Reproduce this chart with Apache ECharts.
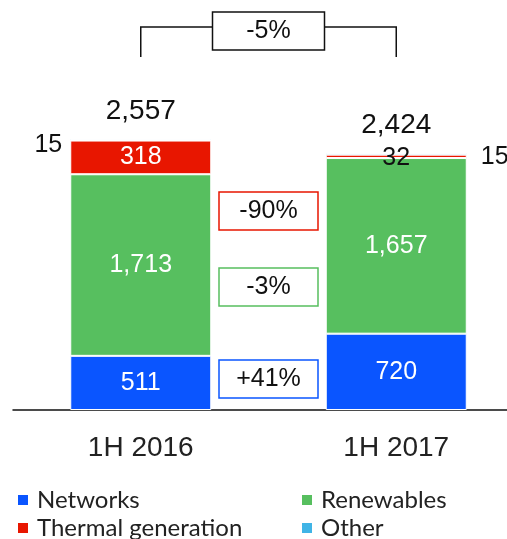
<!DOCTYPE html>
<html>
<head>
<meta charset="utf-8">
<script src="https://cdn.jsdelivr.net/npm/echarts@6/dist/echarts.min.js"></script>
<style>
  html, body { margin: 0; padding: 0; background: #fff; }
  #main { width: 507px; height: 539px; }
</style>
</head>
<body>
<div id="main"></div>
<script>
// 数据
var periods = ['1H 2016', '1H 2017'];
var networks = [511, 720];
var renewables = [1713, 1657];
var thermal = [318, 32];
var other = [15, 15];
var totals = [2557, 2424];
var changes = ['-90%', '-3%', '+41%'];
var totalChange = '-5%';

var cBlue = '#0A55FF', cGreen = '#57BF5F', cRed = '#E81600', cOther = '#40B4E6';
var font = "'Liberation Sans', Arial, sans-serif";
var legendFont = "Lato, 'Open Sans', sans-serif";

var myChart = echarts.init(document.getElementById('main'));

function commas(p) { return echarts.format.addCommas(p.value); }
var inLabel = { show: true, position: 'inside', color: '#fff', fontSize: 25, fontFamily: font, formatter: commas };
var seg = { borderColor: '#fff', borderWidth: 1 };

// 图例：每项单独放，做成两列两行
function legendItem(name, left, top) {
  return {
    left: left, top: top, padding: 0, itemWidth: 12, itemHeight: 12,
    icon: 'rect', data: [name],
    textStyle: { fontSize: 24, lineHeight: 24, color: '#222', fontFamily: legendFont, padding: [0, 0, 0, 3] }
  };
}

option = {
  animation: false,
  grid: { left: 13, right: -17, top: 92, bottom: 129, outerBoundsMode: 'none' },
  xAxis: {
    type: 'category',
    data: periods,
    axisLine: { lineStyle: { color: '#111', width: 1.5 } },
    axisTick: { show: false },
    axisLabel: { fontSize: 28, color: '#222', fontFamily: font, margin: 24 }
  },
  yAxis: { type: 'value', min: 0, max: 3000, show: false },
  legend: [
    legendItem('Networks', 16, 488),
    legendItem('Renewables', 300, 488),
    legendItem('Thermal generation', 16, 516),
    legendItem('Other', 300, 516)
  ],
  series: [
    {
      name: 'Networks', type: 'bar', stack: 'a', barWidth: 141,
      itemStyle: Object.assign({ color: cBlue }, seg),
      label: inLabel, data: networks
    },
    {
      name: 'Renewables', type: 'bar', stack: 'a',
      itemStyle: Object.assign({ color: cGreen }, seg),
      label: inLabel, data: renewables
    },
    {
      name: 'Thermal generation', type: 'bar', stack: 'a',
      itemStyle: Object.assign({ color: cRed }, seg),
      label: inLabel,
      data: thermal.map(function (v, i) {
        // 小值标签用黑色，稍微往下
        return i === 0 ? v : { value: v, label: { color: '#111', offset: [0, 2] } };
      })
    },
    {
      name: 'Other', type: 'bar', stack: 'a',
      itemStyle: Object.assign({ color: cOther }, seg),
      label: { show: true, color: '#111', fontSize: 25, fontFamily: font },
      data: other.map(function (v, i) {
        return i === 0
          ? { value: v, label: { position: 'left', distance: 8, offset: [0, 5] } }
          : { value: v, label: { position: 'right', distance: 14, offset: [0, 3] } };
      })
    },
    {
      name: 'Total', type: 'scatter', symbolSize: 0.01,
      itemStyle: { color: '#111', opacity: 1 },
      label: {
        show: true, position: 'top', distance: 14, color: '#111', fontSize: 28, fontFamily: font,
        formatter: commas
      },
      data: totals
    }
  ]
};

myChart.setOption(option);

// 注释框和括号
var x0 = myChart.convertToPixel({ xAxisIndex: 0 }, periods[0]);
var x1 = myChart.convertToPixel({ xAxisIndex: 0 }, periods[1]);
var xm = (x0 + x1) / 2;
var boxColors = [cRed, cGreen, cBlue];
var boxY = [192, 268, 360];
var gfx = [];
changes.forEach(function (t, i) {
  gfx.push({
    type: 'rect', shape: { x: xm - 49.5, y: boxY[i], width: 99, height: 38 },
    style: { fill: '#fff', stroke: boxColors[i], lineWidth: 1.5 }
  });
  gfx.push({
    type: 'text', x: xm, y: boxY[i] + 19,
    style: { text: t, fontSize: 25, fontFamily: font, fill: '#111', align: 'center', verticalAlign: 'middle' }
  });
});
gfx.push({
  type: 'polyline', shape: { points: [[x0, 57], [x0, 27], [xm - 56, 27]] },
  style: { stroke: '#111', lineWidth: 1.5, fill: null }
});
gfx.push({
  type: 'polyline', shape: { points: [[xm + 56, 27], [x1, 27], [x1, 57]] },
  style: { stroke: '#111', lineWidth: 1.5, fill: null }
});
gfx.push({
  type: 'rect', shape: { x: xm - 56, y: 12, width: 112, height: 38 },
  style: { fill: '#fff', stroke: '#111', lineWidth: 1.5 }
});
gfx.push({
  type: 'text', x: xm, y: 31,
  style: { text: totalChange, fontSize: 25, fontFamily: font, fill: '#111', align: 'center', verticalAlign: 'middle' }
});
myChart.setOption({ graphic: gfx });
</script>
</body>
</html>
